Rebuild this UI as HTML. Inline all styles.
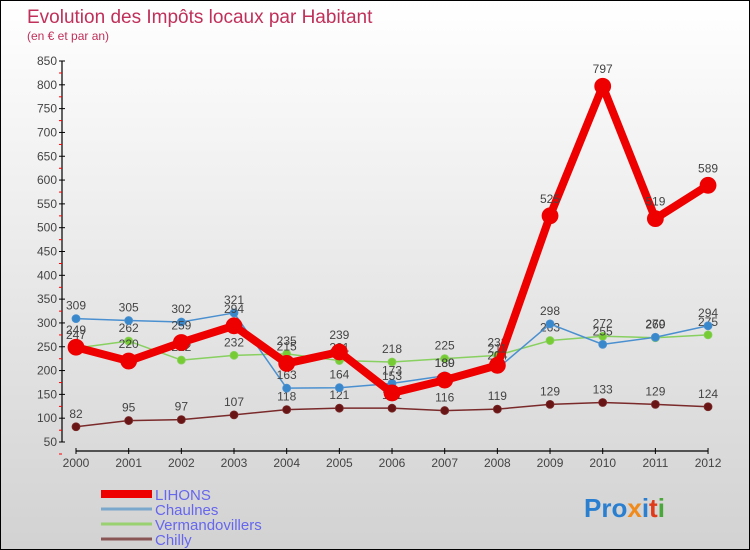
<!DOCTYPE html>
<html><head><meta charset="utf-8">
<style>
body{margin:0;}
#wrap{width:748px;height:548px;border:1px solid #000;background:linear-gradient(#ffffff,#d2d2d2);position:relative;overflow:hidden;font-family:"Liberation Sans",sans-serif;}
svg text{font-family:"Liberation Sans",sans-serif;}
</style></head>
<body>
<div id="wrap">
<svg id="chart" width="748" height="548">
<text x="26" y="22" font-size="19" fill="#c0305a">Evolution des Impôts locaux par Habitant</text>
<text x="26" y="39" font-size="12" fill="#c0305a">(en € et par an)</text>
<g id="axes"></g>
<g id="series"></g>
<g id="legend"></g>
<text x="583" y="516" font-size="26" font-weight="bold"><tspan fill="#2a7fd0">Pro</tspan><tspan fill="#f08a1a">x</tspan><tspan fill="#2a7fd0">i</tspan><tspan fill="#e03a1a">t</tspan><tspan fill="#4aa83a">i</tspan></text>
</svg>
</div>
<script>
const years=["2000","2001","2002","2003","2004","2005","2006","2007","2008","2009","2010","2011","2012"];
const lihons=[249,220,259,294,215,239,153,180,211,525,797,519,589];
const chaulnes=[309,305,302,321,163,164,173,189,204,298,255,270,294];
const vermandovillers=[247,262,222,232,235,221,218,225,232,263,272,269,275];
const chilly=[82,95,97,107,118,121,121,116,119,129,133,129,124];
const yTicks=[50,100,150,200,250,300,350,400,450,500,550,600,650,700,750,800,850];
const NS="http://www.w3.org/2000/svg";
function xS(i){return 75+i*52.67;}
function yS(v){return 441-(v-50)*(381/800);}
function mk(t,a,p){const e=document.createElementNS(NS,t);for(const k in a)e.setAttribute(k,a[k]);p.appendChild(e);return e;}
const ax=document.getElementById('axes');
let l=mk('line',{x1:61,y1:60,x2:61,y2:441,stroke:'#000','stroke-width':1.2},ax);


yTicks.forEach(v=>{
 const y=yS(v);
 mk('line',{x1:58,y1:y,x2:64,y2:y,stroke:'#000'},ax);
 mk('line',{x1:58,y1:y+12,x2:61,y2:y+12,stroke:'#f00'},ax);
 const t=mk('text',{x:56,y:y+4,'font-size':12,'text-anchor':'end',fill:'#444'},ax);
 t.textContent=v;
 
 
});
l=mk('line',{x1:75,y1:450,x2:707,y2:450,stroke:'#000','stroke-width':1.2},ax);


years.forEach((yr,i)=>{
 const x=xS(i);
 mk('line',{x1:x,y1:447,x2:x,y2:453,stroke:'#000'},ax);
 const t=mk('text',{x:x,y:466,'font-size':12,'text-anchor':'middle',fill:'#444'},ax);
 t.textContent=yr;
 
 
});
const sg=document.getElementById('series');
function series(name,data,color,w,r,dot){
 const g=mk('g',{},sg);
 
 
 const pts=data.map((v,i)=>xS(i)+','+yS(v)).join(' ');
 mk('polyline',{points:pts,fill:'none',stroke:color,'stroke-width':w,'stroke-linejoin':'round'},g);
 data.forEach((v,i)=>{
  const c=mk('circle',{cx:xS(i),cy:yS(v),r:r,fill:dot,stroke:color,'stroke-width':0.8},g);
  
  
  const t=mk('text',{x:xS(i),y:yS(v)-r-5,'font-size':12,'text-anchor':'middle',fill:'#444'},g);
  t.textContent=v;
  
  
 });
}
series('chilly',chilly,'#7a2a2a',1.5,4,'#6a1515');
series('vermandovillers',vermandovillers,'#88d060',1.5,4,'#77cc33');
series('chaulnes',chaulnes,'#4a90d0',1.5,4,'#3a88cc');
series('lihons',lihons,'#ee0000',8,8,'#ee0000');
const lg=document.getElementById('legend');
const items=[['LIHONS','#ee0000',8],['Chaulnes','#7aa8cc',3],['Vermandovillers','#99d070',3],['Chilly','#8a5555',3]];
items.forEach((it,i)=>{
 const y=493+i*15;
 mk('line',{x1:100,y1:y,x2:151,y2:y,stroke:it[1],'stroke-width':it[2]},lg);
 const t=mk('text',{x:154,y:y+6,'font-size':15,fill:'#6666ee'},lg);
 t.textContent=it[0];
 
 
});
</script>
</body></html>
